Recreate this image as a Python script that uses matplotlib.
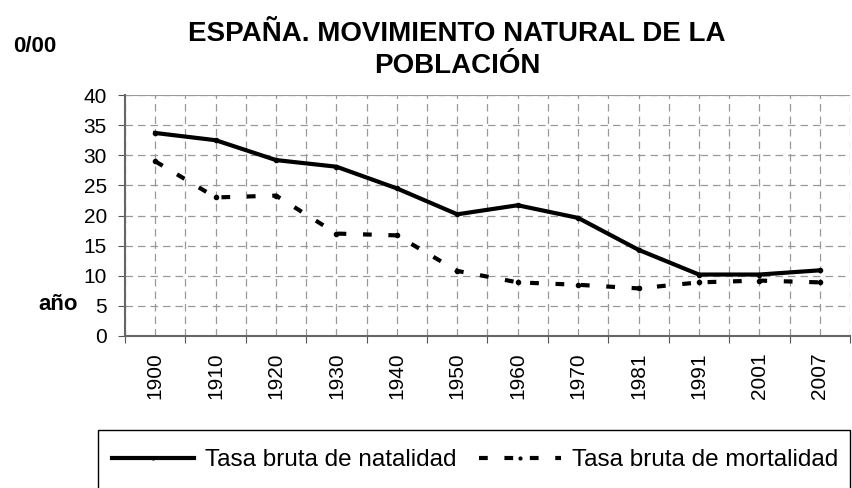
import numpy as np
import matplotlib
matplotlib.use("Agg")
import matplotlib.pyplot as plt
from matplotlib.patches import Rectangle
from matplotlib.lines import Line2D

plt.rcParams['font.family'] = ['Liberation Sans', 'DejaVu Sans']

# datos (por mil)
anios = ['1900', '1910', '1920', '1930', '1940', '1950', '1960', '1970',
         '1981', '1991', '2001', '2007']
natalidad = [33.7, 32.5, 29.2, 28.1, 24.5, 20.2, 21.7, 19.6, 14.3, 10.2, 10.2, 10.9]
mortalidad = [29.0, 23.0, 23.3, 17.0, 16.7, 10.8, 8.9, 8.5, 7.9, 8.9, 9.2, 8.9]
yticks = list(range(0, 45, 5))

fig = plt.figure(figsize=(8.53, 4.88), dpi=100)
ax = fig.add_axes([0.1465, 0.3115, 0.85, 0.4938])

trazo = (2.1, 4.0)
x = np.arange(len(anios))
ax.plot(x, natalidad, color='black', lw=3, marker='o', ms=3)
ax.plot(x, mortalidad, color='black', lw=3, dashes=trazo, marker='o', ms=3)

ax.set_xlim(-0.5, len(anios) - 0.5)
ax.set_ylim(0, 40)
ax.set_yticks(yticks)
ax.set_xticks(np.arange(-0.5, len(anios), 1.0))
ax.set_xticklabels([])
ax.set_xticks(x, minor=True)
ax.set_xticklabels(anios, minor=True, rotation=90, fontsize=15)
ax.tick_params(axis='x', which='minor', length=0, pad=12)
ax.tick_params(axis='x', which='major', length=5, direction='out', color='#555555')
ax.tick_params(axis='y', length=5, direction='out', color='#555555', labelsize=15, pad=8)

ax.grid(True, which='both', axis='x', color='#999999', ls=(0, (6, 4)), lw=0.9)
ax.grid(True, which='major', axis='y', color='#999999', ls=(0, (6, 4)), lw=0.9)
ax.set_axisbelow(True)
for s in ['top', 'right']:
    ax.spines[s].set_visible(False)
ax.spines['left'].set_color('#666666')
ax.spines['bottom'].set_color('#666666')
ax.spines['left'].set_linewidth(1.5)
ax.spines['bottom'].set_linewidth(1.5)
ax.axhline(40, color='#999999', lw=1.5)

fig.text(0.536, 0.93, 'ESPAÑA. MOVIMIENTO NATURAL DE LA', ha='center', va='center',
         fontsize=20, fontweight='bold')
fig.text(0.536, 0.865, 'POBLACIÓN', ha='center', va='center',
         fontsize=20, fontweight='bold')
fig.text(0.041, 0.905, '0/00', ha='center', va='center', fontsize=16, fontweight='bold')
fig.text(0.068, 0.375, 'año', ha='center', va='center', fontsize=16, fontweight='bold')

# caja de la leyenda
fig.patches.append(Rectangle((98 / 853, -0.02), 752 / 853, 58 / 488 + 0.02,
                             transform=fig.transFigure, fill=False,
                             edgecolor='black', lw=1))
h1 = Line2D([], [], color='black', lw=3, marker='o', ms=2)
h2 = Line2D([], [], color='black', lw=3, dashes=trazo, marker='o', ms=2)
fig.legend([h1, h2], ['Tasa bruta de natalidad', 'Tasa bruta de mortalidad'],
           loc='center left', bbox_to_anchor=(0.131, 1 - 460 / 488), ncol=2,
           frameon=False, fontsize=17.5, handlelength=3.4, handletextpad=0.45,
           columnspacing=0.9, borderpad=0, borderaxespad=0)

fig.savefig('out.png', dpi=100)
